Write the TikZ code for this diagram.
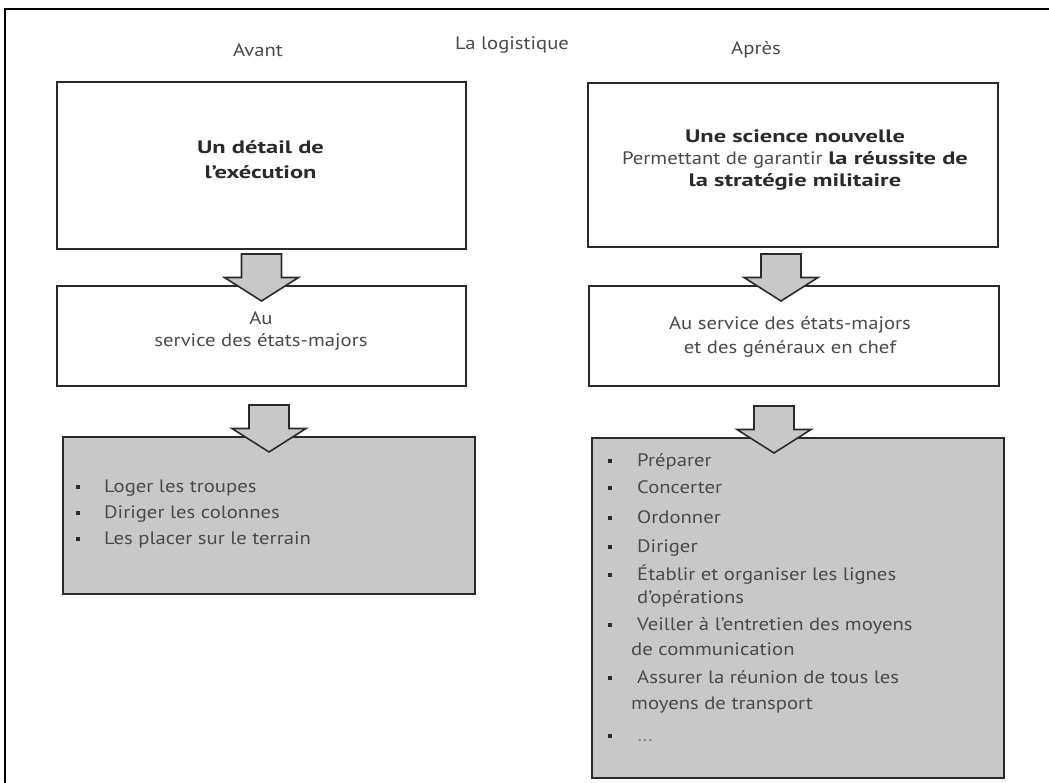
\documentclass[tikz,border=0pt]{standalone}
\usepackage{fontspec}
\setmainfont{PT Sans}[FakeStretch=1.15, BoldFeatures={FakeStretch=1.36}]
\usetikzlibrary{calc}
\definecolor{ink}{HTML}{2A2A2A}
\definecolor{txt}{HTML}{4A4A4A}
\definecolor{boxgray}{HTML}{C8C8C8}
\newcommand\txtsize[1]{\fontsize{18}{#1}\selectfont}
\newcommand\boldink[1]{{\color{ink}\bfseries #1}}
% block arrow pointing down into the top edge of a node (#2), shifted by #1
\newcommand\feedarrow[2][0]{%
  \draw[blockarrow] let \p1=($(#2.north)+(#1,0)$) in
    (\x1-20pt,\y1+31pt) -- (\x1+20pt,\y1+31pt) -- (\x1+20pt,\y1+7.5pt)
    -- (\x1+37pt,\y1+7.5pt) -- (\x1,\y1-16pt) -- (\x1-37pt,\y1+7.5pt)
    -- (\x1-20pt,\y1+7.5pt) -- cycle;}
\begin{document}
\begin{tikzpicture}[x=1pt,y=-1pt,
  frame/.style={draw=ink, line width=2pt, rectangle, inner sep=0pt, anchor=north west},
  plainbox/.style={frame, fill=white},
  listbox/.style={frame, fill=boxgray},
  label/.style={font=\txtsize{23}, text=txt, inner sep=0pt},
  blockarrow/.style={draw=ink, line width=1.6pt, fill=boxgray, line join=miter},
  bul/.style={fill=ink, minimum size=4.5pt, inner sep=0pt},
  item/.style={label, anchor=base west},
]
\useasboundingbox (0,0) rectangle (1049,783);
\fill[white] (0,0) rectangle (1049,783);
% outer frame, open to the right and at the bottom
\draw[black, line width=2pt] (5,790) -- (5,9) -- (1055,9);

% headings
\node[label] (avant) at (258,50) {Avant};
\node[label] (titre) at (512,45) {La logistique};
\node[label] (apres) at (756,50) {Après};

% left column
\node[plainbox, minimum width=409pt, minimum height=167pt] (l1) at (56,81) {};
\node[plainbox, minimum width=409pt, minimum height=100pt] (l2) at (56,285) {};
\node[listbox, minimum width=412pt, minimum height=157pt] (l3) at (62,436) {};

% right column
\node[plainbox, minimum width=410pt, minimum height=164pt] (r1) at (587,82) {};
\node[plainbox, minimum width=410pt, minimum height=100pt] (r2) at (588,285) {};
\node[listbox, minimum width=412pt, minimum height=340pt] (r3) at (591,437) {};

% arrows between the boxes
\feedarrow{l2}
\feedarrow{l3}
\feedarrow[-13]{r2}
\feedarrow[-24]{r3}

% box texts
\node[label, align=center, font=\txtsize{25}] (l1t) at (260.5,160)
  {\boldink{Un détail de}\\\boldink{l’exécution}};
\node[label, align=center, font=\txtsize{22}] (l2t) at (261,331)
  {Au\\service des états-majors};
\node[label, align=center, font=\txtsize{22}] (r1t) at (795,160)
  {\boldink{Une science nouvelle}\\Permettant de garantir \boldink{la réussite de}\\\boldink{la stratégie militaire}};
\node[label, align=center, font=\txtsize{24}] (r2t) at (790,337)
  {Au service des états-majors\\et des généraux en chef};

% left list
\foreach \y/\t [count=\i] in {492/Loger les troupes, 518/Diriger les colonnes, 544/Les placer sur le terrain} {
  \node[bul] (lb\i) at (78,\y-5) {};
  \node[item] (li\i) at (104,\y) {\t};
}

% right list: baseline / bullet / indent / text
\foreach \y/\b/\x/\t [count=\i] in {
  466/1/637/Préparer,
  493/1/637/Concerter,
  523/1/637/Ordonner,
  552/1/637/Diriger,
  580/1/637/Établir et organiser les lignes,
  603/0/637/d’opérations,
  630/1/637/Veiller à l’entretien des moyens,
  655/0/631/de communication,
  683/1/637/Assurer la réunion de tous les,
  709/0/631/moyens de transport,
  741/1/637/{\color{gray}\ldots}} {
  \ifnum\b=1 \node[bul] (rb\i) at (610,\y-5) {};\fi
  \node[item] (ri\i) at (\x,\y) {\t};
}
\end{tikzpicture}
\end{document}
